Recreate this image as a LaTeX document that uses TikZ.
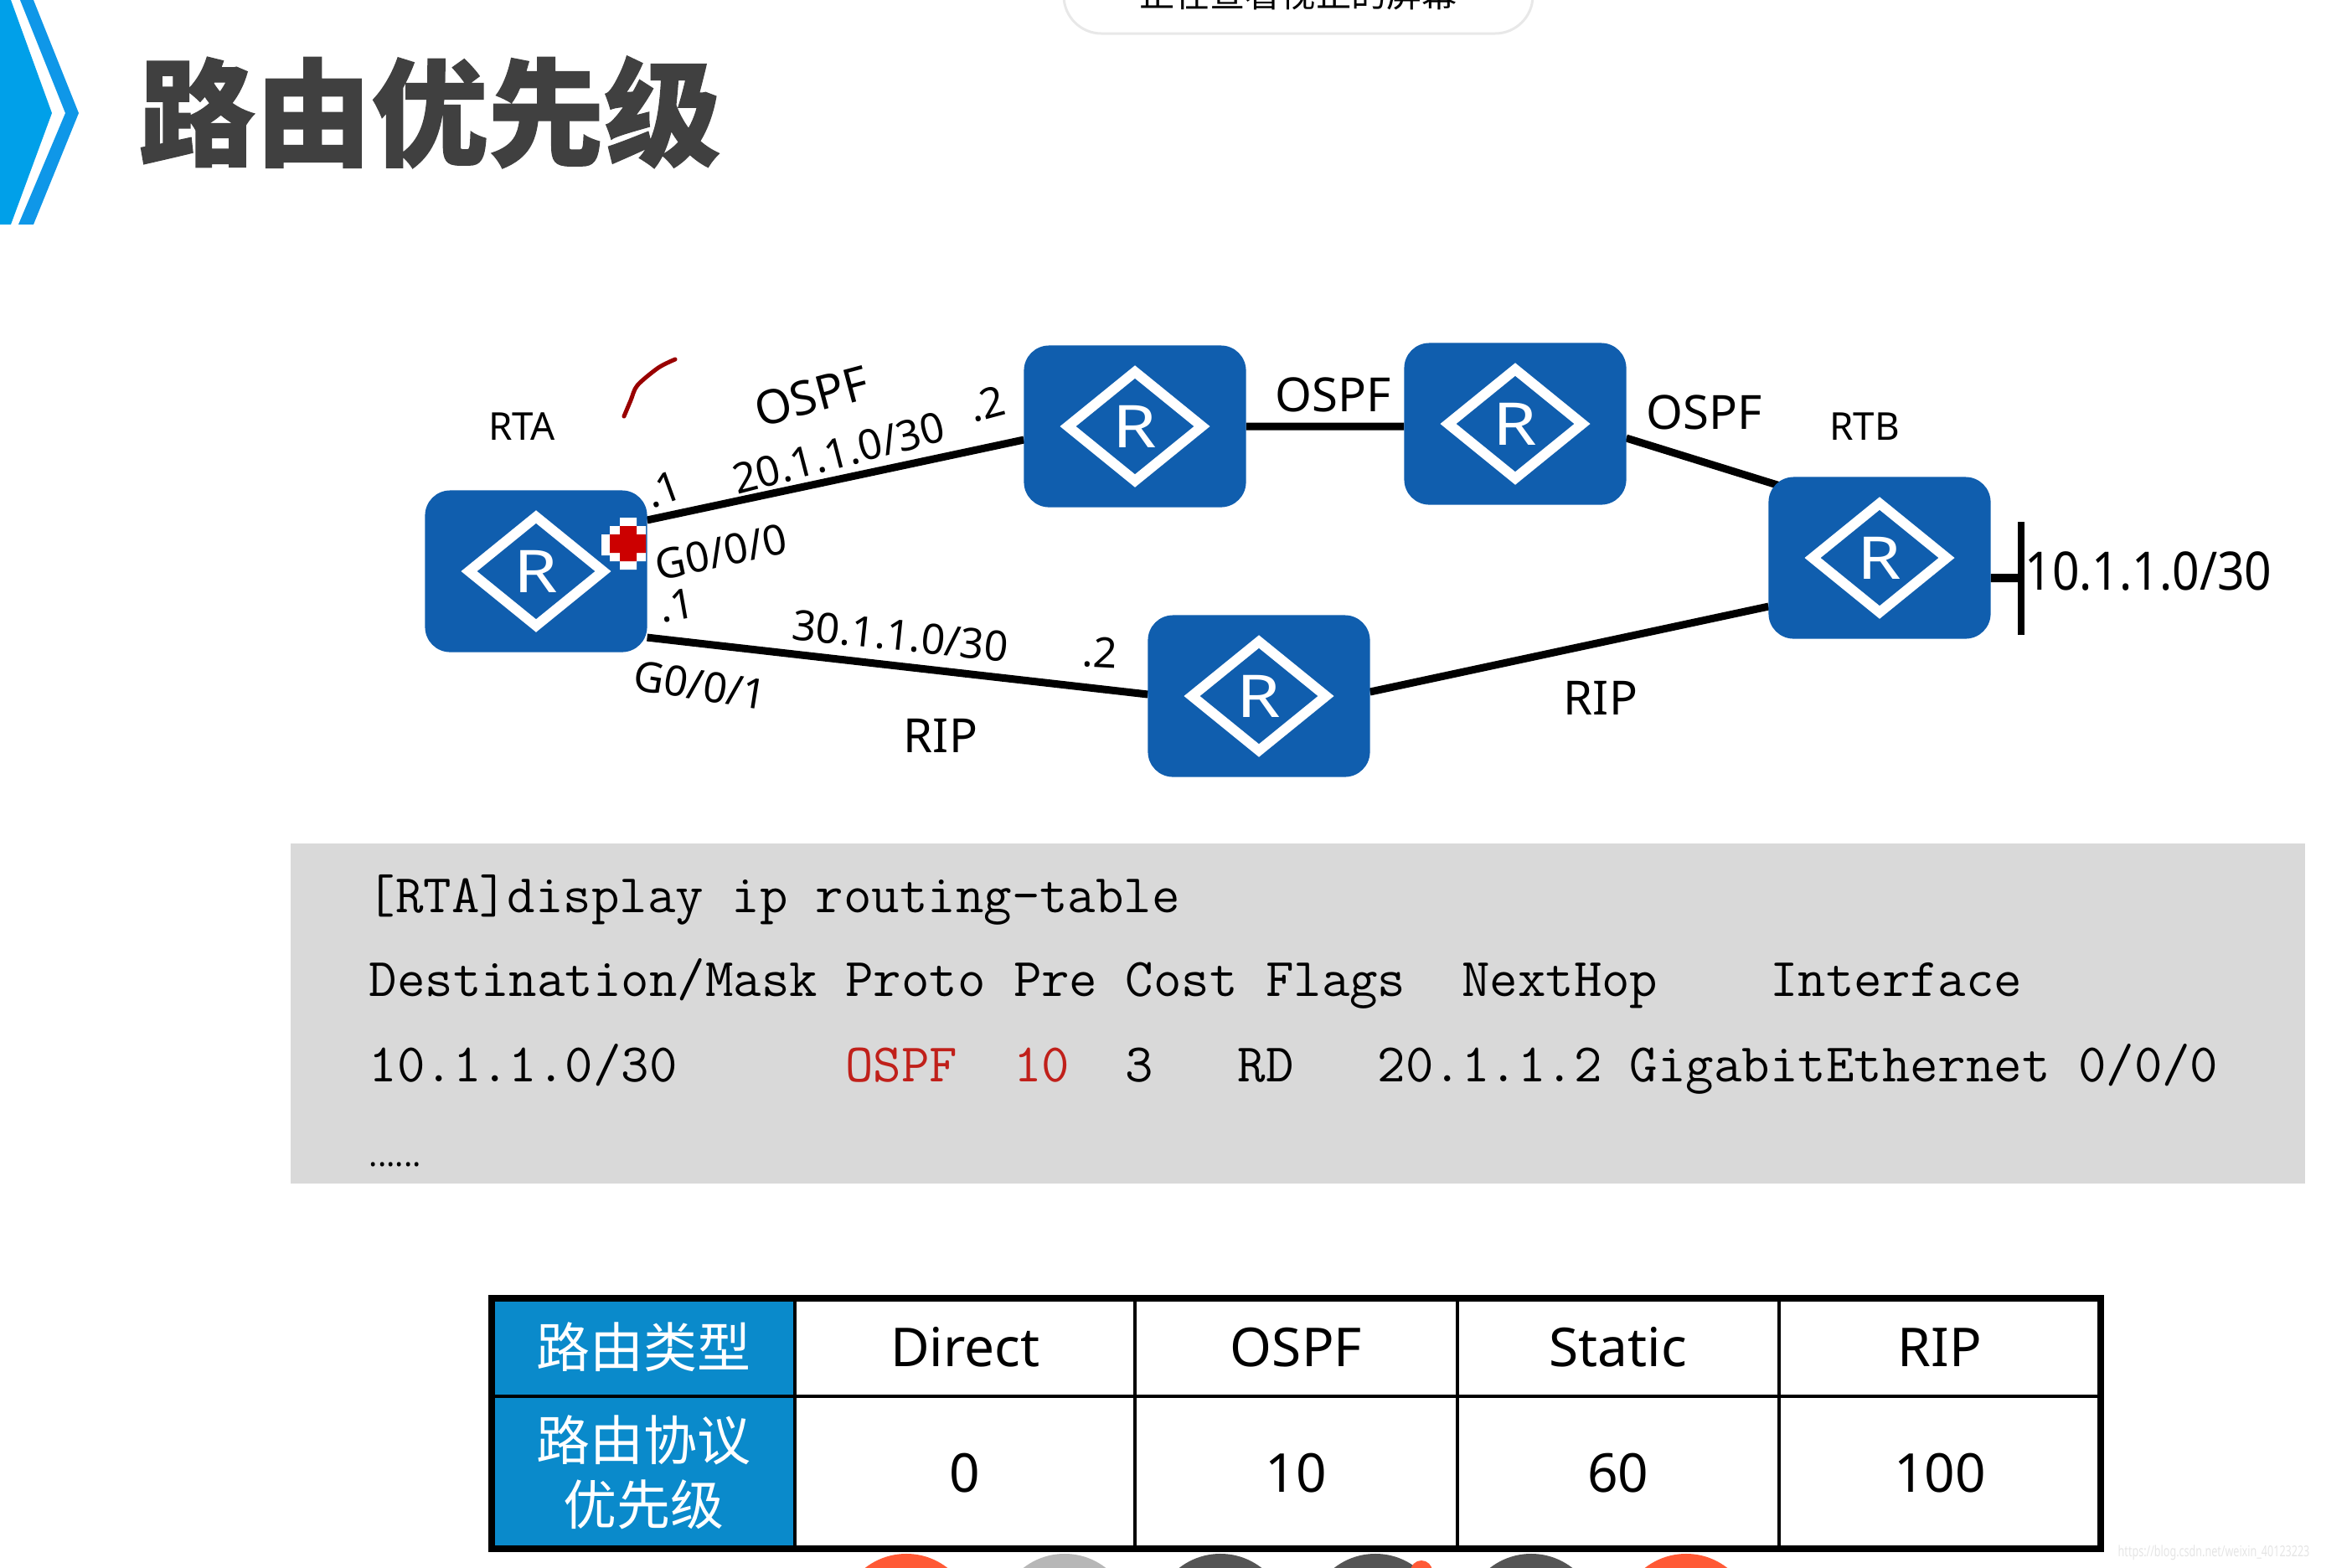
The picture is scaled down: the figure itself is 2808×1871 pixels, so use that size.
\documentclass[tikz,border=0pt]{standalone}
\usepackage{fontspec}
\setmainfont{Noto Sans}
\newfontfamily\cjk{Noto Sans CJK SC}
\newfontfamily\titlefont[BoldFeatures={FakeBold=1}]{Noto Sans CJK SC}
\usetikzlibrary{positioning, backgrounds}
\definecolor{routerblue}{HTML}{105EAE}
\definecolor{headblue}{HTML}{0A8ACB}
\definecolor{chevblue}{HTML}{00A0E9}
\definecolor{bandblue}{HTML}{0F97E8}
\definecolor{titlegrey}{HTML}{404040}
\definecolor{codegrey}{HTML}{D9D9D9}
\definecolor{codered}{HTML}{C0201A}
\definecolor{dotred}{HTML}{FF5A36}
\definecolor{dotgrey}{HTML}{B7B7B7}
\definecolor{dotdark}{HTML}{555555}

\begin{document}
\begin{tikzpicture}[
  x=0.01cm, y=-0.01cm,
  router/.style={fill=routerblue, text=white, rounded corners=.3cm, inner sep=0, outer sep=0,
    minimum width=2.65cm, minimum height=1.93cm, font=\fontsize{20}{20}\selectfont,
    path picture={\draw[white, sharp corners, line width=.12cm] (path picture bounding box.center)
      +(-80,0) -- +(0,-65) -- +(80,0) -- +(0,65) -- cycle;}},
  link/.style={line width=.09cm},
  lbl/.style={inner sep=0, font=\fontsize{14.2}{16}\selectfont},
  proto/.style={inner sep=0, font=\fontsize{16}{18}\selectfont},
  codeline/.style={anchor=base west, inner sep=0, font=\ttfamily\fontsize{18.47}{20}\selectfont},
  tcell/.style={draw, line width=.04cm, inner sep=0, outer sep=0, minimum width=3.84cm,
    font=\fontsize{18.2}{22}\selectfont},
  thead/.style={tcell, fill=headblue, text=white, align=center, minimum width=3.62cm,
    font=\cjk\fontsize{18.2}{22}\selectfont}
]
\useasboundingbox (0,0) rectangle (2808,1871);

% corner chevron and title
\fill[chevblue] (0,0) -- (13,0) -- (62,135) -- (13,268) -- (0,268) -- cycle;
\fill[bandblue] (24,0) -- (40,0) -- (94,135) -- (40,268) -- (22,268) -- (78,135) -- cycle;
\node[anchor=base west, inner sep=0, text=titlegrey, font=\titlefont\bfseries\fontsize{39.5}{40}\selectfont]
  (title) at (165,187) {路由优先级};

% clipped notice at the top edge
\draw[draw=black!9, fill=white, line width=.03cm, rounded corners=.45cm]
  (1270,-80) rectangle (1830,40);
\node[anchor=base, inner sep=0, font=\cjk\fontsize{12}{12}\selectfont] (notice) at (1550,8) {正在查看视正的屏幕};

% routers
\node[router] (rta) at (640,682) {\scalebox{1.2}[1]{R}};
\node[router] (rup) at (1355,509) {\scalebox{1.2}[1]{R}};
\node[router] (rmid) at (1809,506) {\scalebox{1.2}[1]{R}};
\node[router] (rtb) at (2244,666) {\scalebox{1.2}[1]{R}};
\node[router] (rlow) at (1503,831) {\scalebox{1.2}[1]{R}};
\coordinate (bartop) at (2413,623);
\coordinate (barbot) at (2413,758);
\coordinate (barmid) at (2413,690);

\begin{scope}[on background layer]
\draw[link] ([yshift=.61cm]rta.east) -- ([yshift=-.16cm]rup.west);
\draw[link] (rup.east) -- ([yshift=-.03cm]rmid.west);
\draw[link] ([yshift=-.17cm]rmid.east) -- ([xshift=.2cm,yshift=.84cm]rtb.west);
\draw[link] ([yshift=-.79cm]rta.east) -- ([yshift=.02cm]rlow.west);
\draw[link] ([yshift=.05cm]rlow.east) -- ([yshift=-.58cm]rtb.west);
\draw[line width=.1cm] ([yshift=-.24cm]rtb.east) -- (barmid);
\end{scope}
\draw[line width=.08cm] (bartop) -- (barbot);

% labels round the links
\node[lbl, font=\fontsize{13}{15}\selectfont] (lrta) at (623,509) {RTA};
\node[lbl, font=\fontsize{13}{15}\selectfont] (lrtb) at (2226,509) {RTB};
\node[proto, rotate=15] (lospfa) at (969,473) {OSPF};
\node[proto] (lospfb) at (1592,471) {OSPF};
\node[proto] (lospfc) at (2035,492) {OSPF};
\node[proto] (lripa) at (1123,878) {RIP};
\node[proto] (lripb) at (1911,833) {RIP};
\node[lbl, rotate=14.5] (lnetup) at (1001,541) {20.1.1.0/30};
\node[lbl, rotate=-6] (lnetlow) at (1075,759) {30.1.1.0/30};
\node[lbl, font=\fontsize{18}{20}\selectfont] (lnetb) at (2565,682) {\scalebox{.9}[1]{10.1.1.0/30}};
\node[lbl, rotate=15] (ldotb) at (1178,482) {.2};
\node[lbl, rotate=20] (ldota) at (792,584) {.1};
\node[lbl, rotate=10] (ldotc) at (808,723) {.1};
\node[lbl, rotate=-3] (ldotd) at (1313,779) {.2};
\node[lbl, rotate=12] (lgzero) at (861,659) {G0/0/0};
\node[lbl, rotate=-9] (lgone) at (836,818) {G0/0/1};

% pen stroke and cursor
\draw[draw=red!60!black, line width=.05cm, line cap=round]
  plot[smooth] coordinates {(806,429) (786,439) (761,460) (753,478) (745,497)};
\fill[white] (740,618) rectangle (760,680) (718,638) rectangle (771,663) (728,628) rectangle (771,670);
\fill[red!80!black] (740,628) rectangle (760,670) (728,638) rectangle (771,660);

% routing table listing
\node[fill=codegrey, inner sep=0, minimum width=24.03cm, minimum height=4.06cm] (codebg) at (1549.5,1210) {};
\node[codeline] (cmd) at (438,1089) {[RTA]display~ip~routing-table};
\node[codeline] (hdr) at (440,1189) {Destination/Mask~Proto~Pre~Cost~Flags~~NextHop~~~~Interface};
\node[codeline] (row) at (440,1291) {10.1.1.0/30~~~~~~\textcolor{codered}{OSPF}~~\textcolor{codered}{10}~~3~~~RD~~~20.1.1.2~GigabitEthernet~0/0/0};
\node[anchor=base west, inner sep=0, font=\bfseries\fontsize{11}{11}\selectfont] (more) at (440,1392) {......};

% priority table
\node[thead, minimum height=1.17cm] (hkind) at (768,1608.5) {路由类型};
\node[tcell, minimum height=1.17cm, minimum width=4.06cm, right=0pt of hkind] (hdirect) {Direct};
\node[tcell, minimum height=1.17cm, right=0pt of hdirect] (hospf) {OSPF};
\node[tcell, minimum height=1.17cm, right=0pt of hospf] (hstatic) {Static};
\node[tcell, minimum height=1.17cm, right=0pt of hstatic] (hrip) {RIP};
\node[thead, minimum height=1.82cm, below=0pt of hkind] (pkind) {路由协议\\优先级};
\node[tcell, minimum height=1.82cm, minimum width=4.06cm, right=0pt of pkind] (pdirect) {0};
\node[tcell, minimum height=1.82cm, right=0pt of pdirect] (pospf) {10};
\node[tcell, minimum height=1.82cm, right=0pt of pospf] (pstatic) {60};
\node[tcell, minimum height=1.82cm, right=0pt of pstatic] (prip) {100};
\draw[line width=.08cm] (hkind.north west) rectangle (prip.south east);

% avatars cut off by the lower edge
\foreach \cx/\cc in {1082/dotred, 1271/dotgrey, 1457/dotdark, 1642/dotdark, 1828/dotdark, 2013/dotred}
  \fill[\cc] (\cx,1935) circle (.8cm);
\fill[dotred] (1697,1876) circle (.13cm);

\node[anchor=base west, inner sep=0, text=black!10, font=\fontsize{5.1}{6}\selectfont] (mark) at (2528,1858)
  {\scalebox{.7}[1]{https://blog.csdn.net/weixin\_40123223}};
\end{tikzpicture}
\end{document}
